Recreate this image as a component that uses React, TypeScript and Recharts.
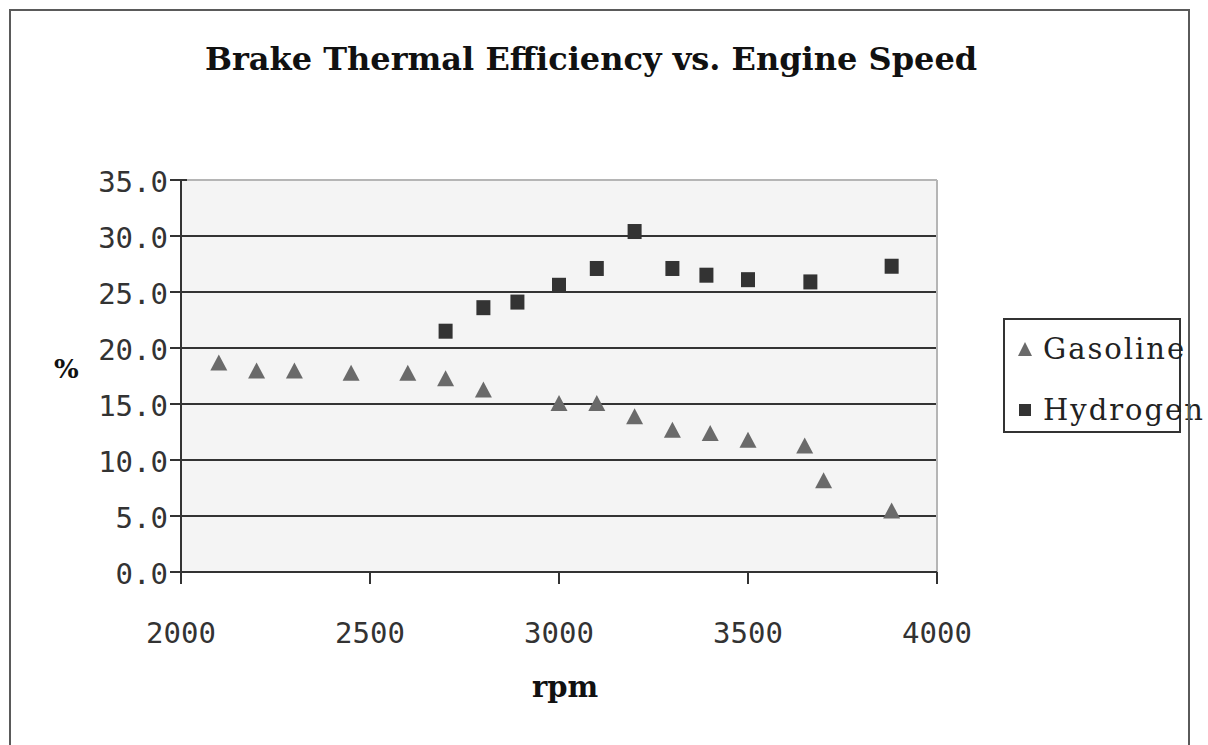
import React from 'react';
import {
  ScatterChart,
  Scatter,
  XAxis,
  YAxis,
  CartesianGrid,
  ReferenceLine,
  Legend,
  Label,
} from 'recharts';

const gasolineRpm = [2100, 2200, 2300, 2450, 2600, 2700, 2800, 3000, 3100, 3200, 3300, 3400, 3500, 3650, 3700, 3880];
const gasolineEff = [18.7, 18.0, 18.0, 17.8, 17.8, 17.3, 16.3, 15.1, 15.1, 13.9, 12.7, 12.4, 11.8, 11.3, 8.2, 5.5];
const hydrogenRpm = [2700, 2800, 2890, 3000, 3100, 3200, 3300, 3390, 3500, 3665, 3880];
const hydrogenEff = [21.5, 23.6, 24.1, 25.6, 27.1, 30.4, 27.1, 26.5, 26.1, 25.9, 27.3];
const xTicks = [2000, 2500, 3000, 3500, 4000];
const yTicks = [0, 5, 10, 15, 20, 25, 30, 35];

const gasoline = gasolineRpm.map((rpm, i) => ({ rpm, eff: gasolineEff[i] }));
const hydrogen = hydrogenRpm.map((rpm, i) => ({ rpm, eff: hydrogenEff[i] }));

const TRI = '#6a6a6a';
const SQ = '#333333';
const tickFont = "'DejaVu Sans Mono', monospace";
const serif = "'DejaVu Serif', serif";

const Triangle = (p: any) => (
  <polygon
    points={`${p.cx},${p.cy - 8} ${p.cx + 8.5},${p.cy + 8} ${p.cx - 8.5},${p.cy + 8}`}
    fill={TRI}
  />
);

const Square = (p: any) => <rect x={p.cx - 7} y={p.cy - 7.5} width={14} height={15} fill={SQ} />;

// ticks cross the y axis in the original
const YTick = (p: any) => (
  <g>
    <line x1={p.x - 11} x2={p.x + 6} y1={p.y} y2={p.y} stroke="#333" strokeWidth={2} />
    <text x={p.x - 13} y={p.y + 12} textAnchor="end" fontFamily={tickFont} fontSize={29} fill="#333">
      {Number(p.payload.value).toFixed(1)}
    </text>
  </g>
);

const XTick = (p: any) => (
  <g>
    <line x1={p.x} x2={p.x} y1={p.y} y2={p.y + 12} stroke="#333" strokeWidth={2} />
    <text x={p.x} y={p.y + 71} textAnchor="middle" fontFamily={tickFont} fontSize={29} fill="#333">
      {p.payload.value}
    </text>
  </g>
);

const renderLegend = () => (
  <div
    style={{
      width: 178,
      height: 115,
      boxSizing: 'border-box',
      border: '2px solid #333',
      background: '#fff',
      position: 'relative',
      fontFamily: serif,
      fontSize: 29,
      color: '#222',
      whiteSpace: 'nowrap',
    }}
  >
    <div style={{ position: 'absolute', left: 12, top: 12, display: 'flex', alignItems: 'center' }}>
      <svg width={16} height={16} style={{ marginRight: 10 }}>
        <polygon points="8,1 15,15 1,15" fill={TRI} />
      </svg>
      <span style={{ letterSpacing: 2 }}>Gasoline</span>
    </div>
    <div style={{ position: 'absolute', left: 12, top: 73, display: 'flex', alignItems: 'center' }}>
      <svg width={16} height={16} style={{ marginRight: 10 }}>
        <rect x={2} y={2} width={12} height={12} fill={SQ} />
      </svg>
      <span style={{ letterSpacing: 2 }}>Hydrogen</span>
    </div>
  </div>
);

export default function App() {
  return (
    <div style={{ position: 'absolute', left: 0, top: 0, width: 1208, height: 745, overflow: 'hidden', background: '#fff' }}>
      <ScatterChart width={1208} height={745} margin={{ top: 180, right: 271, bottom: 0, left: 0 }}>
        <CartesianGrid vertical={false} stroke="#333" strokeWidth={2} fill="#f4f4f4" horizontalValues={yTicks} />
        <XAxis
          type="number"
          dataKey="rpm"
          domain={[2000, 4000]}
          ticks={xTicks}
          height={173}
          stroke="#333"
          strokeWidth={2}
          tickLine={false}
          tickSize={0}
          tickMargin={0}
          tick={<XTick />}
        >
          <Label
            value="rpm"
            position="insideBottom"
            offset={48}
            dx={6}
            style={{ fontFamily: serif, fontWeight: 'bold', fontSize: 29, fill: '#111' }}
          />
        </XAxis>
        <YAxis
          type="number"
          dataKey="eff"
          domain={[0, 35]}
          ticks={yTicks}
          width={181}
          stroke="#333"
          strokeWidth={2}
          tickLine={false}
          tickSize={0}
          tickMargin={0}
          tick={<YTick />}
        >
          <Label
            value="%"
            position="insideLeft"
            offset={54}
            dy={-7}
            style={{ fontFamily: serif, fontWeight: 'bold', fontSize: 26, fill: '#111', textAnchor: 'start' }}
          />
        </YAxis>
        <ReferenceLine y={35} stroke="#b5b5b5" strokeWidth={2} />
        <ReferenceLine x={4000} stroke="#b5b5b5" strokeWidth={2} />
        <Legend
          layout="horizontal"
          verticalAlign="middle"
          align="center"
          wrapperStyle={{ left: 1003, top: 318, width: 178, height: 115 }}
          content={renderLegend}
        />
        <Scatter name="Gasoline" data={gasoline} shape={Triangle} isAnimationActive={false} />
        <Scatter name="Hydrogen" data={hydrogen} shape={Square} isAnimationActive={false} />
      </ScatterChart>
      <div
        style={{
          position: 'absolute',
          left: 0,
          top: 43,
          width: 1182,
          textAlign: 'center',
          fontFamily: serif,
          fontWeight: 'bold',
          fontSize: 32,
          lineHeight: 1,
          color: '#111',
        }}
      >
        Brake Thermal Efficiency vs. Engine Speed
      </div>
      <div
        style={{
          position: 'absolute',
          left: 9,
          top: 9,
          width: 1181,
          height: 1000,
          boxSizing: 'border-box',
          border: '2px solid #5a5a5a',
          pointerEvents: 'none',
        }}
      />
    </div>
  );
}
